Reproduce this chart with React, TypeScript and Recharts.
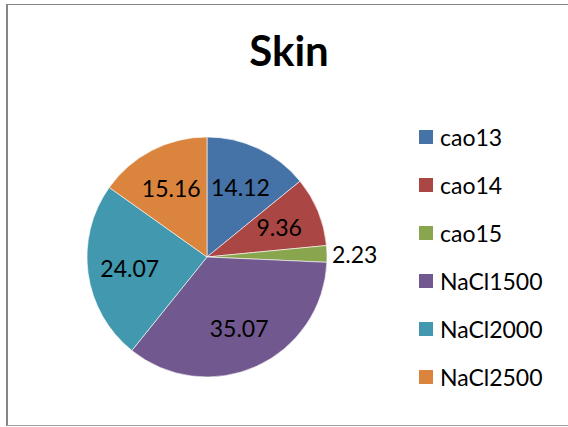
import React from 'react';
import { PieChart, Pie, Cell, Legend } from 'recharts';

const categories = ['cao13', 'cao14', 'cao15', 'NaCl1500', 'NaCl2000', 'NaCl2500'];
const values = [14.12, 9.36, 2.23, 35.07, 24.07, 15.16];
const colors = ['#4572A7', '#AA4643', '#89A54E', '#71588F', '#4198AF', '#DB843D'];

const chartData = categories.map((name, i) => ({ name, value: values[i] }));

const FONT = 'Lato, "Open Sans", sans-serif';
const RADIAN = Math.PI / 180;

const renderLabel = (props: any) => {
  const { cx, cy, midAngle, outerRadius, value, percent } = props;
  const small = percent < 0.05;
  const r = small ? outerRadius + 5 : outerRadius * 0.65;
  const x = cx + r * Math.cos(-midAngle * RADIAN);
  const y = cy + r * Math.sin(-midAngle * RADIAN);
  return (
    <text
      x={x}
      y={y}
      fill="#000"
      fontFamily={FONT}
      fontSize={23}
      textAnchor={small ? 'start' : 'middle'}
      dominantBaseline="central"
    >
      {value.toFixed(2)}
    </text>
  );
};

const renderLegend = () => (
  <div style={{ fontFamily: FONT, fontSize: 23 }}>
    {categories.map((name, i) => (
      <div key={name} style={{ display: 'flex', alignItems: 'center', height: 48 }}>
        <span style={{ width: 14, height: 14, background: colors[i], display: 'inline-block', marginRight: 7 }} />
        <span style={{ color: '#000' }}>{name}</span>
      </div>
    ))}
  </div>
);

const App: React.FC = () => {
  return (
    <div style={{ position: 'absolute', left: 0, top: 0, width: 568, height: 427, background: '#fff', overflow: 'hidden' }}>
      <div
        style={{
          position: 'absolute',
          left: 6,
          top: 4,
          width: 620,
          height: 420,
          borderTop: '1px solid #868686',
          borderBottom: '1px solid #a0a0a0',
          borderLeft: '2px solid #868686',
        }}
      />
      <div
        style={{
          position: 'absolute',
          left: 0,
          width: 578,
          top: 25,
          textAlign: 'center',
          fontFamily: FONT,
          fontWeight: 700,
          fontSize: 42,
          lineHeight: '50px',
          color: '#000',
        }}
      >
        Skin
      </div>
      <div style={{ position: 'absolute', left: 0, top: 0 }}>
        <PieChart width={568} height={427} margin={{ top: 0, right: 0, bottom: 0, left: 0 }}>
          <Pie
            data={chartData}
            dataKey="value"
            nameKey="name"
            cx={207}
            cy={257}
            outerRadius={120}
            startAngle={90}
            endAngle={-270}
            stroke="#ffffff"
            strokeWidth={0.6}
            label={renderLabel}
            labelLine={false}
            isAnimationActive={false}
          >
            {chartData.map((d, i) => (
              <Cell key={d.name} fill={colors[i]} />
            ))}
          </Pie>
          <Legend
            content={renderLegend}
            layout="vertical"
            wrapperStyle={{ position: 'absolute', left: 419, top: 113, width: 145 }}
          />
        </PieChart>
      </div>
    </div>
  );
};

export default App;
